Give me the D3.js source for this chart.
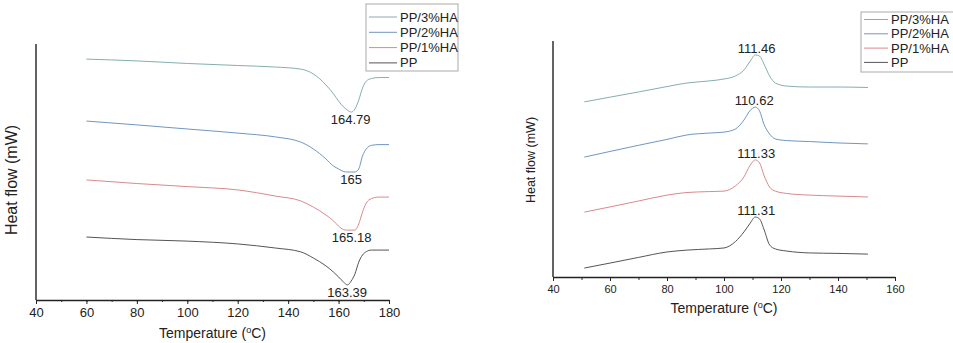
<!DOCTYPE html>
<html>
<head>
<meta charset="utf-8">
<script src="https://cdn.jsdelivr.net/npm/d3@7"></script>
<style>
  body { margin: 0; background: #fff; }
  text { font-family: "Liberation Sans", Arial, sans-serif; fill: #222; }
</style>
</head>
<body>
<svg id="chart" width="953" height="343"></svg>
<script>
// series names (legend order, top to bottom)
var seriesNames = ["PP/3%HA", "PP/2%HA", "PP/1%HA", "PP"];
var seriesColors = ["#86aeb0", "#6f97c2", "#d98a8c", "#555555"];

// ---- left panel: melting (DSC heating) ----
var meltTemp = [60, 80, 100, 120, 135, 145, 150, 155, 158, 160, 162, 163.5, 165, 166.5, 168, 169.5, 171, 173, 176, 180];
var meltPP3 = [9.41, 9.34, 9.24, 9.16, 9.10, 9.02, 8.83, 8.40, 8.05, 7.77, 7.54, 7.42, 7.34, 7.46, 7.81, 8.28, 8.55, 8.65, 8.69, 8.69];
var meltPP2 = [6.99, 6.84, 6.68, 6.52, 6.37, 6.17, 5.90, 5.51, 5.23, 5.12, 5.02, 5.00, 5.00, 5.00, 5.12, 5.63, 5.90, 6.04, 6.07, 6.07];
var meltPP1 = [4.69, 4.55, 4.43, 4.30, 4.06, 3.87, 3.63, 3.32, 3.09, 2.89, 2.75, 2.73, 2.73, 2.73, 2.97, 3.44, 3.79, 3.96, 4.02, 4.02];
var meltPP  = [2.46, 2.36, 2.30, 2.19, 2.03, 1.88, 1.64, 1.33, 1.09, 0.90, 0.70, 0.59, 0.74, 1.02, 1.48, 1.76, 1.89, 1.95, 1.95, 1.95];
var meltPeaks = [164.79, 165, 165.18, 163.39];
var meltTicks = [40, 60, 80, 100, 120, 140, 160, 180];

// ---- right panel: crystallization (DSC cooling) ----
var crystTemp = [51, 60, 70, 80, 87, 95, 100, 104, 107, 109, 111, 112.5, 114, 116, 118, 122, 130, 140, 150.5];
var crystPP3 = [7.42, 7.62, 7.84, 8.07, 8.22, 8.31, 8.39, 8.52, 8.77, 9.11, 9.41, 9.36, 9.03, 8.52, 8.22, 8.09, 8.05, 8.05, 8.03];
var crystPP2 = [5.08, 5.32, 5.58, 5.83, 6.02, 6.10, 6.14, 6.27, 6.65, 7.03, 7.20, 7.03, 6.48, 6.06, 5.85, 5.78, 5.74, 5.68, 5.64];
var crystPP1 = [2.75, 2.97, 3.22, 3.47, 3.58, 3.62, 3.64, 3.86, 4.24, 4.70, 4.96, 4.83, 4.32, 3.81, 3.64, 3.54, 3.47, 3.43, 3.39];
var crystPP  = [0.38, 0.59, 0.83, 1.06, 1.14, 1.19, 1.23, 1.50, 1.91, 2.25, 2.54, 2.46, 2.03, 1.36, 1.19, 1.10, 1.02, 1.00, 0.97];
var crystPeaks = [111.46, 110.62, 111.33, 111.31];
var crystTicks = [40, 60, 80, 100, 120, 140, 160];

var svg = d3.select("#chart");

function drawPanel(opt) {
  var x = d3.scaleLinear().domain(opt.xDomain).range([opt.left, opt.right]);
  var y = d3.scaleLinear().domain([0, 10]).range([opt.bottom, opt.top]);
  var g = svg.append("g");

  // x axis with minor ticks every 10
  var minor = d3.range(opt.xDomain[0], opt.xDomain[1] + 1, 10);
  g.append("g")
    .attr("transform", "translate(0," + opt.bottom + ")")
    .call(d3.axisBottom(x).tickValues(minor).tickSize(opt.minorTick).tickFormat(""))
    .call(a => a.select(".domain").remove())
    .call(a => a.selectAll("line").attr("stroke", "#333"));
  g.append("g")
    .attr("transform", "translate(0," + opt.bottom + ")")
    .call(d3.axisBottom(x).tickValues(opt.ticks).tickSize(opt.majorTick).tickPadding(opt.tickPad).tickSizeOuter(0))
    .call(a => a.select(".domain").attr("stroke", "#222").attr("stroke-width", 1.4))
    .call(a => a.selectAll("line").attr("stroke", "#222"))
    .call(a => a.selectAll("text").style("font-size", opt.tickFont + "px").style("font-family", "Liberation Sans, Arial, sans-serif").attr("fill", "#222"));

  // y axis: plain line, no ticks
  g.append("line")
    .attr("x1", opt.left).attr("x2", opt.left)
    .attr("y1", opt.top).attr("y2", opt.bottom)
    .attr("stroke", "#222").attr("stroke-width", 1.4);

  // axis titles
  var xt = g.append("text")
    .attr("x", (opt.left + opt.right) / 2)
    .attr("y", opt.xTitleY)
    .attr("text-anchor", "middle")
    .style("font-size", opt.titleFont + "px");
  xt.append("tspan").text("Temperature (");
  xt.append("tspan").attr("dy", -5).style("font-size", (opt.titleFont * 0.65) + "px").text("o");
  xt.append("tspan").attr("dy", 5).text("C)");

  g.append("text")
    .attr("transform", "translate(" + opt.yTitleX + "," + opt.yTitleY + ") rotate(-90)")
    .attr("text-anchor", "middle")
    .style("font-size", opt.yTitleFont + "px")
    .text("Heat flow (mW)");

  // curves
  var line = d3.line()
    .x((d, i) => x(opt.temp[i]))
    .y(d => y(d))
    .curve(d3.curveMonotoneX);

  opt.series.forEach(function(s, i) {
    g.append("path")
      .datum(s)
      .attr("d", line)
      .attr("fill", "none")
      .attr("stroke", seriesColors[i])
      .attr("stroke-width", 1);

    var ext = opt.dip ? d3.min(s) : d3.max(s);
    g.append("text")
      .attr("x", x(opt.peaks[i]))
      .attr("y", y(ext) + opt.labelDy)
      .attr("text-anchor", "middle")
      .style("font-size", "13px")
      .text(opt.peaks[i]);
  });

  // legend
  var lg = g.append("g").attr("transform", "translate(" + opt.legX + "," + opt.legY + ")");
  lg.append("rect")
    .attr("width", opt.legW).attr("height", opt.legH)
    .attr("fill", "#fff").attr("stroke", "#aaa").attr("stroke-width", 1);
  seriesNames.forEach(function(n, i) {
    var cy = opt.legRow0 + i * opt.legStep;
    lg.append("line")
      .attr("x1", 3).attr("x2", opt.legLine)
      .attr("y1", cy).attr("y2", cy)
      .attr("stroke", seriesColors[i]).attr("stroke-width", 1);
    lg.append("text")
      .attr("x", opt.legLine + 3)
      .attr("y", cy + 4.5)
      .style("font-size", "13px")
      .text(n);
  });
}

drawPanel({
  xDomain: [40, 180], left: 36, right: 389, top: 44, bottom: 300,
  ticks: meltTicks, majorTick: 4, minorTick: 2, tickPad: 4, tickFont: 13,
  xTitleY: 338, titleFont: 14, yTitleX: 17, yTitleY: 180, yTitleFont: 16,
  temp: meltTemp, series: [meltPP3, meltPP2, meltPP1, meltPP], peaks: meltPeaks,
  dip: true, labelDy: 12,
  legX: 366, legY: 4, legW: 92, legH: 67, legLine: 31, legRow0: 13, legStep: 15.3
});

drawPanel({
  xDomain: [40, 160], left: 553, right: 895, top: 41, bottom: 277,
  ticks: crystTicks, majorTick: 4, minorTick: 3, tickPad: 4, tickFont: 11,
  xTitleY: 313, titleFont: 14, yTitleX: 535, yTitleY: 160, yTitleFont: 12.5,
  temp: crystTemp, series: [crystPP3, crystPP2, crystPP1, crystPP], peaks: crystPeaks,
  dip: false, labelDy: -2,
  legX: 861, legY: 12, legW: 95, legH: 60, legLine: 27, legRow0: 7.5, legStep: 14.3
});
</script>
</body>
</html>
